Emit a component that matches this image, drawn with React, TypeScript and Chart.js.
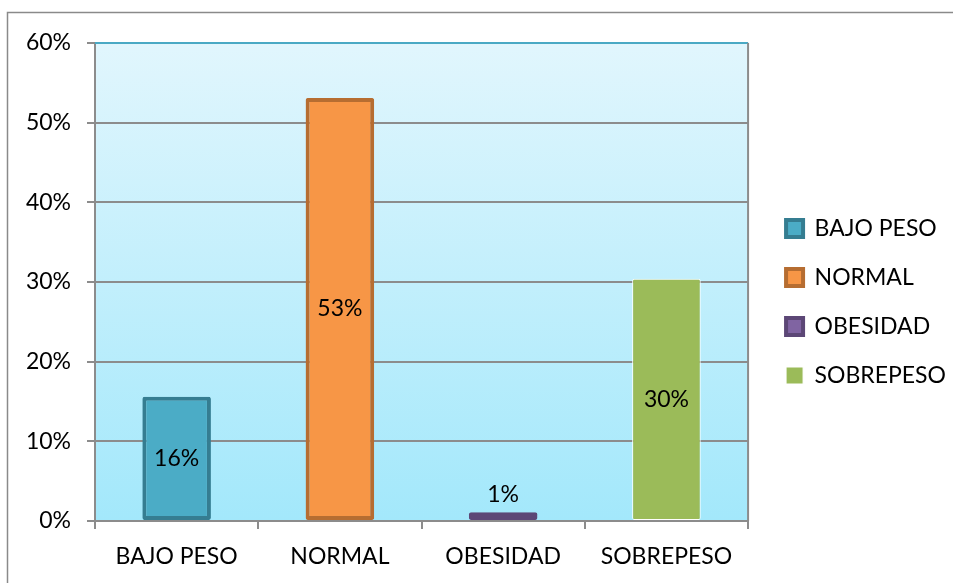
import { useEffect, useRef } from "react";
import { Chart, registerables } from "chart.js";

Chart.register(...registerables);

const categories = ["BAJO PESO", "NORMAL", "OBESIDAD", "SOBREPESO"];
const values = [15.6, 53.1, 1.1, 30.4];
const valueLabels = ["16%", "53%", "1%", "30%"];
const yTickLabels = ["0%", "10%", "20%", "30%", "40%", "50%", "60%"];
const fillColors = ["#4bacc6", "#f79646", "#8064a2", "#9bbb59"];
const borderColors = ["#357d91", "#b66d31", "#5c4776", "#ffffff"];
const borderWidths = [4, 4, 4, 1];

const FONT = "Lato";
const FS = 23;
const LEGEND_SHIFT_X = 12;
const LEGEND_SHIFT_Y = -11;

const decorPlugin = {
  id: "decor",
  afterLayout(chart: any) {
    const l = chart.legend;
    if (l) {
      l.left += LEGEND_SHIFT_X;
      l.right += LEGEND_SHIFT_X;
      l.top += LEGEND_SHIFT_Y;
      l.bottom += LEGEND_SHIFT_Y;
    }
  },
  beforeDraw(chart: any) {
    const { ctx, chartArea: a } = chart;
    ctx.save();
    ctx.fillStyle = "#ffffff";
    ctx.fillRect(0, 0, chart.width, chart.height);
    ctx.strokeStyle = "#8a8a8a";
    ctx.lineWidth = 1.5;
    ctx.strokeRect(7.5, 12.5, chart.width + 20, chart.height + 20);
    const g = ctx.createLinearGradient(0, a.top, 0, a.bottom);
    g.addColorStop(0, "#e1f6fd");
    g.addColorStop(1, "#a3e8fb");
    ctx.fillStyle = g;
    ctx.fillRect(a.left, a.top, a.right - a.left, a.bottom - a.top);
    ctx.restore();
  },
  afterDraw(chart: any) {
    const { ctx, chartArea: a } = chart;
    ctx.save();
    ctx.strokeStyle = "#4aa9c4";
    ctx.lineWidth = 2;
    ctx.beginPath();
    ctx.moveTo(a.left, a.top);
    ctx.lineTo(a.right, a.top);
    ctx.stroke();
    ctx.strokeStyle = "#8c8c8c";
    ctx.beginPath();
    ctx.moveTo(a.right, a.top);
    ctx.lineTo(a.right, a.bottom);
    ctx.stroke();
    ctx.restore();
  },
  afterDatasetsDraw(chart: any) {
    const { ctx } = chart;
    ctx.save();
    ctx.font = `${FS}px ${FONT}`;
    ctx.fillStyle = "#000";
    ctx.textAlign = "center";
    ctx.textBaseline = "middle";
    chart.data.datasets.forEach((ds: any, i: number) => {
      const meta = chart.getDatasetMeta(i);
      meta.data.forEach((el: any, j: number) => {
        if (ds.data[j] == null) return;
        const h = el.base - el.y;
        const y = h < 30 ? el.y - 18 : (el.y + el.base) / 2;
        ctx.fillText(valueLabels[i], el.x, y);
      });
    });
    ctx.restore();
  },
};

export default function App() {
  const ref = useRef<HTMLCanvasElement>(null);
  useEffect(() => {
    const datasets = categories.map((c, i) => ({
      label: c,
      data: categories.map((_, j) => (j === i ? values[i] : null)),
      backgroundColor: fillColors[i],
      borderColor: borderColors[i],
      borderWidth: borderWidths[i],
      borderRadius: 2,
      borderSkipped: false,
    }));
    const chart = new Chart(ref.current!, {
      type: "bar",
      data: { labels: categories, datasets },
      plugins: [decorPlugin],
      options: {
        animation: false,
        responsive: false,
        maintainAspectRatio: false,
        layout: { padding: { left: 0, top: 43, right: 9, bottom: 0 } },
        datasets: { bar: { grouped: false, categoryPercentage: 1, barPercentage: 0.42 } as any },
        plugins: {
          tooltip: { enabled: false },
          legend: {
            position: "right",
            labels: {
              font: { family: FONT, size: FS },
              color: "#000",
              boxWidth: 17,
              boxHeight: 17,
              padding: 26,
            },
          },
        },
        scales: {
          x: {
            afterFit: (s: any) => { s.height = 62; },
            grid: { offset: true, drawOnChartArea: false, color: "#8c8c8c", lineWidth: 2, tickLength: 8 },
            border: { color: "#8c8c8c", width: 2 },
            ticks: { font: { family: FONT, size: FS }, color: "#000", padding: 14 },
          },
          y: {
            min: 0,
            max: 60,
            afterFit: (s: any) => { s.width = 95; },
            grid: { color: "#8c8c8c", lineWidth: 2, tickLength: 8 },
            border: { color: "#8c8c8c", width: 2 },
            ticks: {
              stepSize: 10,
              font: { family: FONT, size: FS },
              color: "#000",
              padding: 16,
              callback: (_v: any, idx: number) => yTickLabels[idx],
            },
          },
        },
      },
    });
    return () => chart.destroy();
  }, []);
  return (
    <div style={{ position: "absolute", left: 0, top: 0, width: 953, height: 583 }}>
      <canvas ref={ref} width={953} height={583} />
    </div>
  );
}
